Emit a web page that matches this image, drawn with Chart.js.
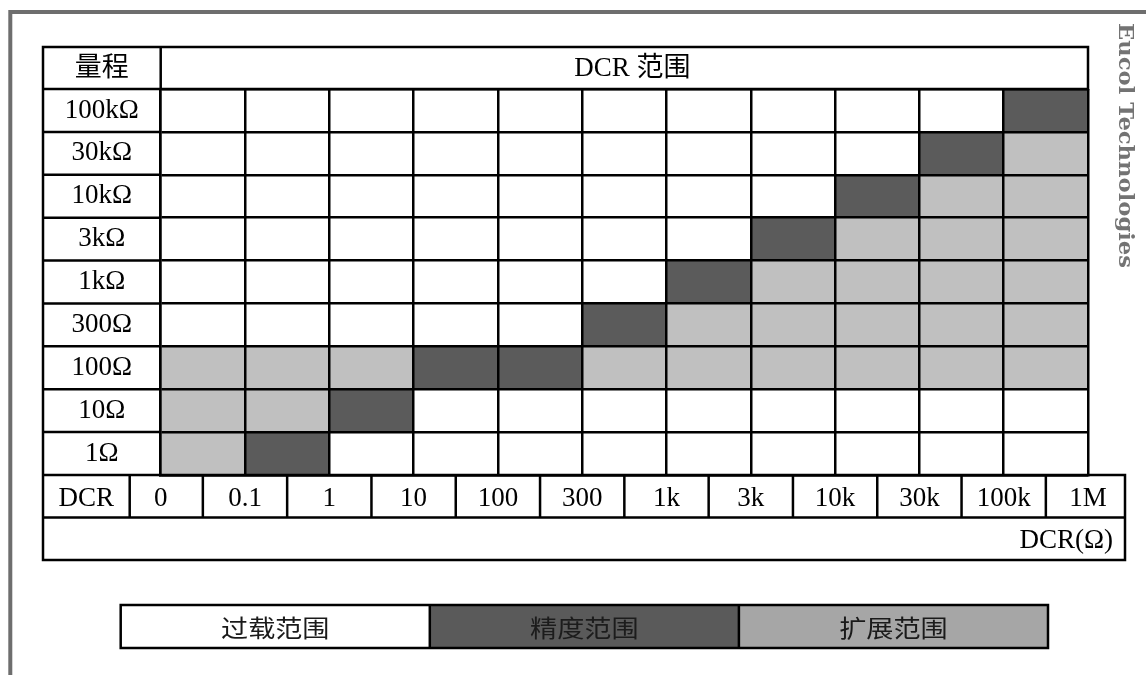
<!DOCTYPE html>
<html>
<head>
<meta charset="utf-8">
<script src="https://cdn.jsdelivr.net/npm/chart.js@4.4.1/dist/chart.umd.min.js"></script>
<style>
  html, body { margin: 0; padding: 0; background: #fff; }
  canvas { display: block; }
</style>
</head>
<body>
<canvas id="grafico" width="1146" height="675"></canvas>
<script>
// 量程, top to bottom
const ranges = ['100kΩ', '30kΩ', '10kΩ', '3kΩ', '1kΩ', '300Ω', '100Ω', '10Ω', '1Ω'];
// DCR values on the column boundaries
const dcrTicks = ['0', '0.1', '1', '10', '100', '300', '1k', '3k', '10k', '30k', '100k', '1M'];
// spans in column units for each row (null = nothing)
const precisionSpan = [[10, 11], [9, 10], [8, 9], [7, 8], [6, 7], [5, 6], [3, 5], [2, 3], [1, 2]];
const extendHigh = [null, [10, 11], [9, 11], [8, 11], [7, 11], [6, 11], [5, 11], null, null];
const extendLow = [null, null, null, null, null, null, [0, 3], [0, 2], [0, 1]];
const legendLabels = ['过载范围', '精度范围', '扩展范围'];

const COLORS = {
    precision: '#5b5b5b',
    extend: '#c0c0c0',
    legend: ['#ffffff', '#5a5a5a', '#a6a6a6'],
    legendText: ['#1a1a1a', '#1c1c1c', '#1a1a1a'],
    frame: '#6e6e6e'
};

const SERIF = "'Liberation Serif', 'Times New Roman', 'Noto Sans CJK SC', serif";
const CJK = "'Noto Sans CJK SC', sans-serif";
const FONT_SIZE = 27;
const LINE = 2.5;
const ROW_H = 42.5;

const grafico = document.getElementById('grafico');

const tablePlugin = {
    id: 'tabela',
    beforeDraw(chart) {
        const { ctx, width, height } = chart;
        ctx.save();
        ctx.fillStyle = '#fff';
        ctx.fillRect(0, 0, width, height);
        ctx.restore();
    },
    afterDraw(chart) {
        const { ctx, chartArea: area, scales: { x, y } } = chart;
        const left = 43, top = 47;
        const dcrTop = area.bottom, dcrBottom = dcrTop + ROW_H, unitBottom = dcrBottom + ROW_H;
        const tickPx = dcrTicks.map((_, i) => x.getPixelForValue(i));
        const firstSep = tickPx[0] - 31;
        const right2 = tickPx[tickPx.length - 1] + 37;

        ctx.save();
        // outer grey frame
        ctx.strokeStyle = COLORS.frame;
        ctx.lineWidth = 4;
        ctx.beginPath();
        ctx.moveTo(10.3, 675);
        ctx.lineTo(10.3, 12);
        ctx.lineTo(1146, 12);
        ctx.stroke();

        // table lines
        ctx.strokeStyle = '#000';
        ctx.lineWidth = LINE;
        ctx.beginPath();
        ctx.rect(left, top, area.right - left, area.top - top);
        ctx.moveTo(area.left, top);
        ctx.lineTo(area.left, area.top);
        ctx.moveTo(left, area.top);
        ctx.lineTo(left, unitBottom);
        for (let i = 0; i <= ranges.length; i++) {
            const yb = y.getPixelForValue(i - 0.5);
            ctx.moveTo(left, yb);
            ctx.lineTo(area.left, yb);
        }
        ctx.rect(left, dcrTop, right2 - left, ROW_H);
        ctx.rect(left, dcrBottom, right2 - left, ROW_H);
        ctx.moveTo(firstSep, dcrTop);
        ctx.lineTo(firstSep, dcrBottom);
        for (let i = 0; i < tickPx.length - 1; i++) {
            const m = (tickPx[i] + tickPx[i + 1]) / 2;
            ctx.moveTo(m, dcrTop);
            ctx.lineTo(m, dcrBottom);
        }
        ctx.stroke();

        // header and extra texts
        ctx.fillStyle = '#000';
        ctx.textAlign = 'center';
        ctx.textBaseline = 'middle';
        ctx.font = `${FONT_SIZE}px ${SERIF}`;
        const headMid = (top + area.top) / 2 + 1;
        ctx.fillText('量程', (left + area.left) / 2, headMid);
        ctx.fillText('DCR 范围', (area.left + area.right) / 2 + 8, headMid);
        ctx.fillText('DCR', (left + firstSep) / 2, dcrTop + ROW_H / 2 + 3);
        ctx.textAlign = 'right';
        ctx.fillText('DCR(Ω)', right2 - 12, dcrBottom + ROW_H / 2 + 2);

        // legend strip
        const lgLeft = 120.7, lgRight = 1048, lgTop = 605, lgBottom = 648;
        const cw = (lgRight - lgLeft) / legendLabels.length;
        legendLabels.forEach((lab, i) => {
            ctx.fillStyle = COLORS.legend[i];
            ctx.fillRect(lgLeft + i * cw, lgTop, cw, lgBottom - lgTop);
        });
        ctx.font = `24px ${CJK}`;
        ctx.textAlign = 'center';
        legendLabels.forEach((lab, i) => {
            ctx.save();
            ctx.translate(lgLeft + i * cw + cw / 2, (lgTop + lgBottom) / 2 + 1);
            ctx.scale(1.13, 1);
            ctx.fillStyle = COLORS.legendText[i];
            ctx.fillText(lab, 0, 0);
            ctx.restore();
        });
        ctx.strokeStyle = '#000';
        ctx.lineWidth = LINE;
        ctx.beginPath();
        ctx.rect(lgLeft, lgTop, lgRight - lgLeft, lgBottom - lgTop);
        for (let i = 1; i < legendLabels.length; i++) {
            ctx.moveTo(lgLeft + i * cw, lgTop);
            ctx.lineTo(lgLeft + i * cw, lgBottom);
        }
        ctx.stroke();

        // side mark
        const mark = 'Eucol Technologies';
        ctx.translate(1119, 23);
        ctx.rotate(Math.PI / 2);
        ctx.font = "bold 20px 'DejaVu Serif'";
        const w = ctx.measureText(mark).width;
        ctx.scale(245 / w, 1);
        ctx.fillStyle = '#737373';
        ctx.textAlign = 'left';
        ctx.textBaseline = 'alphabetic';
        ctx.fillText(mark, 0, 0);
        ctx.restore();
    }
};

new Chart(grafico, {
    type: 'bar',
    data: {
        labels: ranges,
        datasets: [
            { label: '扩展范围', data: extendLow, backgroundColor: COLORS.extend },
            { label: '扩展范围', data: extendHigh, backgroundColor: COLORS.extend },
            { label: '精度范围', data: precisionSpan, backgroundColor: COLORS.precision }
        ]
    },
    options: {
        indexAxis: 'y',
        responsive: false,
        animation: false,
        events: [],
        layout: { padding: { left: 43, top: 89, right: 58, bottom: 675 - 475 - ROW_H } },
        datasets: {
            bar: { barPercentage: 1, categoryPercentage: 1, grouped: false, borderWidth: 0 }
        },
        plugins: {
            legend: { display: false },
            tooltip: { enabled: false }
        },
        scales: {
            x: {
                type: 'linear',
                min: 0,
                max: dcrTicks.length - 1,
                afterBuildTicks: s => { s.ticks = dcrTicks.map((_, i) => ({ value: i })); },
                afterFit: s => { s.height = ROW_H; },
                grid: { color: '#000', lineWidth: LINE, drawTicks: false, z: 1 },
                border: { color: '#000', width: LINE, z: 1 },
                ticks: {
                    autoSkip: false,
                    maxRotation: 0,
                    padding: 8,
                    color: '#000',
                    font: { family: SERIF, size: FONT_SIZE },
                    callback: v => dcrTicks[v]
                }
            },
            y: {
                type: 'category',
                afterFit: s => { s.width = 117.7; },
                grid: { color: '#000', lineWidth: LINE, drawTicks: false, offset: true, z: 1 },
                border: { color: '#000', width: LINE, z: 1 },
                ticks: {
                    crossAlign: 'center',
                    padding: 22,
                    color: '#000',
                    font: { family: SERIF, size: FONT_SIZE }
                }
            }
        }
    },
    plugins: [tablePlugin]
});
</script>
</body>
</html>
